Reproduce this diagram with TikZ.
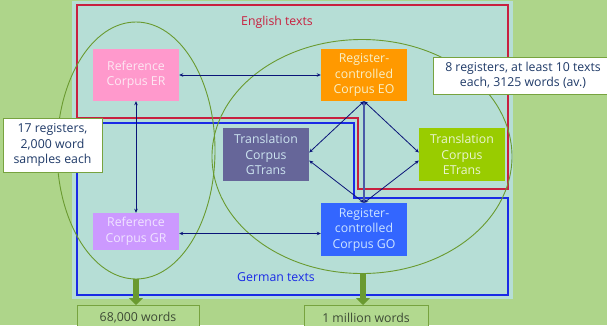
\documentclass[tikz,border=0pt]{standalone}
\usepackage{fontspec}
\setmainfont{Open Sans}
\usetikzlibrary{arrows.meta}
\definecolor{bg}{HTML}{AED58A}
\definecolor{panel}{HTML}{B6DED6}
\definecolor{engred}{HTML}{C8203F}
\definecolor{gerblue}{HTML}{1A2BE6}
\definecolor{ellg}{HTML}{6A9A30}
\definecolor{navy}{HTML}{0A1478}
\definecolor{vline}{HTML}{4A5AA8}
\definecolor{calltext}{HTML}{1F3A68}
\definecolor{callbd}{HTML}{77A33F}
\definecolor{botfill}{HTML}{B2D98F}
\definecolor{bottext}{HTML}{3D4A35}
\definecolor{cER}{HTML}{FF99CC}
\definecolor{cEO}{HTML}{FF9900}
\definecolor{cGT}{HTML}{666699}
\definecolor{cET}{HTML}{99CC00}
\definecolor{cGR}{HTML}{CC99FF}
\definecolor{cGO}{HTML}{3366FF}
\definecolor{tER}{HTML}{FDE8F3}
\definecolor{tEO}{HTML}{F8F0C8}
\definecolor{tGT}{HTML}{CCE4F0}
\definecolor{tET}{HTML}{EAF5D0}
\definecolor{tGR}{HTML}{F0E4FF}
\definecolor{tGO}{HTML}{CCE4FF}
\begin{document}
\begin{tikzpicture}[x=1pt,y=-1pt,
  corp/.style={rectangle, minimum width=86pt, inner sep=0pt, align=center,
    font=\fontsize{12.3}{15.5}\selectfont},
  lnk/.style={draw=navy, line width=0.8pt,
    {Stealth[length=4pt,width=3.5pt]}-{Stealth[length=4pt,width=3.5pt]}},
  vlnk/.style={draw=vline, line width=2pt,
    {Stealth[length=3pt,width=5pt]}-{Stealth[length=3pt,width=5pt]}},
  ell/.style={draw=ellg, line width=0.9pt},
  callout/.style={rectangle, draw=callbd, line width=1pt, fill=white, text=calltext,
    align=center, inner sep=0pt, font=\fontsize{12.3}{15.5}\selectfont},
  botbox/.style={rectangle, draw=callbd, line width=1pt, fill=botfill, text=bottext,
    anchor=north, minimum height=24pt, inner sep=0pt, font=\fontsize{12.3}{15.5}\selectfont},
  bigarrow/.style={draw=ellg, line width=6.5pt, -{Triangle[width=14pt,length=7pt]}},
  lbl/.style={font=\fontsize{12.3}{15.5}\selectfont, inner sep=0pt}]
\useasboundingbox (0,0) rectangle (607,325);
\begin{scope}
\clip (0,0) rectangle (607,325);
\fill[bg] (0,0) rectangle (607,325);
\fill[panel] (72,1) rectangle (513,299);
\draw[draw=engred, line width=1.3pt] (77,5) -- (508,5) -- (508,189) -- (358,189) -- (358,118) -- (77,118) -- cycle;
\draw[draw=gerblue, line width=1.2pt] (77,123) -- (354,123) -- (354,198) -- (508,198) -- (508,295) -- (77,295) -- cycle;

\draw[ell] (136,150.5) ellipse [x radius=79pt, y radius=128.5pt];
\draw[ell] (362,156.5) ellipse [x radius=150pt, y radius=117pt];

\node[lbl, text=engred] (lblE) at (277,22) {English texts};
\node[lbl, text=gerblue] (lblG) at (276,277) {German texts};

\node[corp, fill=cER, text=tER, minimum height=52pt] (er) at (136,75) {Reference\\Corpus ER};
\node[corp, fill=cEO, text=tEO, minimum height=52pt] (eo) at (364,75) {Register-\\controlled\\Corpus EO};
\node[corp, fill=cGT, text=tGT, minimum height=53pt] (gt) at (266,154.5) {Translation\\Corpus\\GTrans};
\node[corp, fill=cET, text=tET, minimum height=53pt] (et) at (462,154.5) {Translation\\Corpus\\ETrans};
\node[corp, fill=cGR, text=tGR, minimum height=37pt] (gr) at (136,231.5) {Reference\\Corpus GR};
\node[corp, fill=cGO, text=tGO, minimum height=53pt] (go) at (364,229.5) {Register-\\controlled\\Corpus GO};

\draw[lnk] (er.east) -- (eo.west);
\draw[lnk] (er.south) -- (gr.north);
\draw[lnk] ([yshift=-2pt]gr.east) -- ([yshift=-2pt]gr.east -| go.west);
\draw[vlnk] (eo.south) -- (go.north);
\draw[lnk] (eo.south) -- ([yshift=2pt]gt.east);
\draw[lnk] ([yshift=-6pt]gt.east) -- (go.north);
\draw[lnk] (eo.south) -- ([yshift=2pt]et.west);
\draw[lnk] ([yshift=-6pt]et.west) -- (go.north);

\node[callout, minimum width=99pt, minimum height=54pt] (c1) at (52.5,145) {17 registers,\\2,000 word\\samples each};
\node[callout, minimum width=180pt, minimum height=37pt] (c2) at (523,75.5) {8 registers, at least 10 texts\\each, 3125 words (av.)};

\node[botbox, minimum width=122pt] (b1) at (138,305) {68,000 words};
\node[botbox, minimum width=124pt] (b2) at (366,305) {1 million words};

\coordinate (le) at (136,279);
\coordinate (re) at (363,273);
\draw[bigarrow] (le) -- (le |- b1.north);
\draw[bigarrow] (re) -- (re |- b2.north);
\end{scope}
\end{tikzpicture}
\end{document}
